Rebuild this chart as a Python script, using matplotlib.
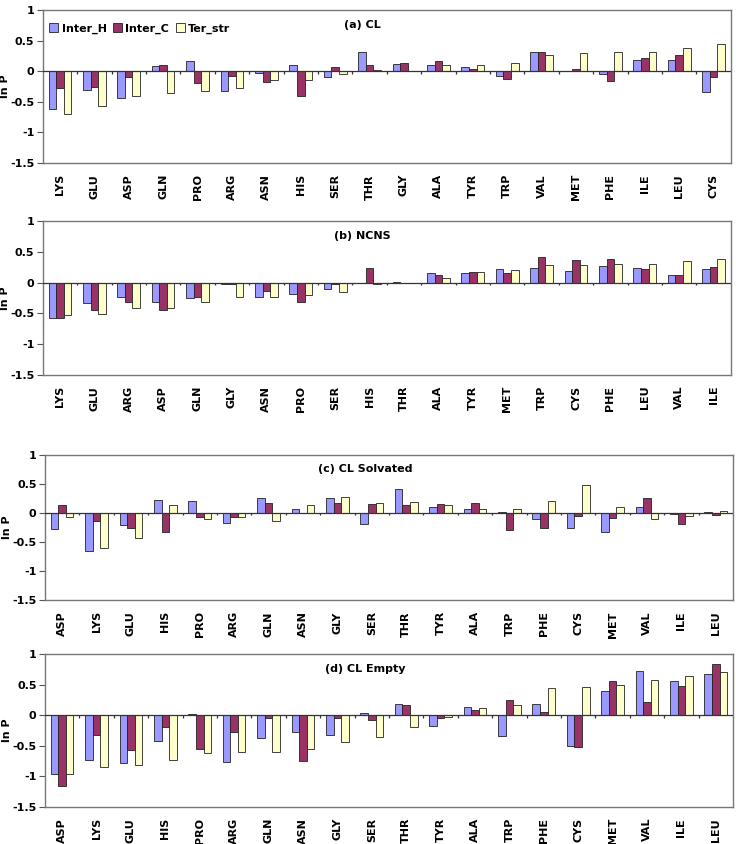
import matplotlib.pyplot as plt
import numpy as np
from matplotlib.patches import Patch

# (a) CL
cats_a = ['LYS', 'GLU', 'ASP', 'GLN', 'PRO', 'ARG', 'ASN', 'HIS', 'SER', 'THR',
          'GLY', 'ALA', 'TYR', 'TRP', 'VAL', 'MET', 'PHE', 'ILE', 'LEU', 'CYS']
h_a = [-0.61, -0.30, -0.43, 0.08, 0.17, -0.32, -0.03, 0.11, -0.10, 0.32,
       0.12, 0.10, 0.07, -0.08, 0.31, 0.00, -0.04, 0.18, 0.19, -0.34]
c_a = [-0.27, -0.26, -0.09, 0.10, -0.20, -0.08, -0.18, -0.40, 0.07, 0.11,
       0.14, 0.17, 0.03, -0.13, 0.31, 0.04, -0.16, 0.22, 0.26, -0.10]
t_a = [-0.70, -0.57, -0.40, -0.35, -0.33, -0.28, -0.15, -0.14, -0.05, 0.02,
       0.01, 0.10, 0.11, 0.14, 0.26, 0.30, 0.31, 0.31, 0.38, 0.44]

# (b) NCNS
cats_b = ['LYS', 'GLU', 'ARG', 'ASP', 'GLN', 'GLY', 'ASN', 'PRO', 'SER', 'HIS',
          'THR', 'ALA', 'TYR', 'MET', 'TRP', 'CYS', 'PHE', 'LEU', 'VAL', 'ILE']
h_b = [-0.58, -0.34, -0.23, -0.32, -0.25, -0.03, -0.23, -0.19, -0.10, 0.00,
       0.015, 0.16, 0.16, 0.22, 0.23, 0.19, 0.27, 0.24, 0.12, 0.22]
c_b = [-0.58, -0.45, -0.32, -0.45, -0.23, -0.02, -0.13, -0.31, -0.02, 0.23,
       -0.01, 0.12, 0.17, 0.15, 0.41, 0.37, 0.39, 0.22, 0.12, 0.26]
t_b = [-0.52, -0.51, -0.41, -0.41, -0.32, -0.23, -0.23, -0.20, -0.16, -0.03,
       0.00, 0.08, 0.17, 0.21, 0.28, 0.28, 0.31, 0.31, 0.35, 0.38]

# (c) CL Solvated
cats_c = ['ASP', 'LYS', 'GLU', 'HIS', 'PRO', 'ARG', 'GLN', 'ASN', 'GLY', 'SER',
          'THR', 'TYR', 'ALA', 'TRP', 'PHE', 'CYS', 'MET', 'VAL', 'ILE', 'LEU']
h_c = [-0.27, -0.66, -0.21, 0.23, 0.20, -0.17, 0.25, 0.07, 0.26, -0.19,
       0.41, 0.11, 0.07, 0.02, -0.11, -0.26, -0.32, 0.10, -0.02, 0.02]
c_c = [0.13, -0.14, -0.26, -0.33, -0.07, -0.07, 0.18, 0.00, 0.18, 0.16,
       0.13, 0.16, 0.18, -0.29, -0.26, -0.06, -0.09, 0.26, -0.19, -0.03]
t_c = [-0.07, -0.60, -0.43, 0.14, -0.10, -0.07, -0.14, 0.14, 0.27, 0.17,
       0.19, 0.13, 0.06, 0.07, 0.21, 0.49, 0.11, -0.10, -0.06, 0.03]

# (d) CL Empty
cats_d = ['ASP', 'LYS', 'GLU', 'HIS', 'PRO', 'ARG', 'GLN', 'ASN', 'GLY', 'SER',
          'THR', 'TYR', 'ALA', 'TRP', 'PHE', 'CYS', 'MET', 'VAL', 'ILE', 'LEU']
h_d = [-0.96, -0.74, -0.78, -0.43, 0.02, -0.77, -0.38, -0.27, -0.32, 0.04,
       0.18, -0.17, 0.13, -0.34, 0.19, -0.51, 0.39, 0.72, 0.56, 0.67]
c_d = [-1.16, -0.32, -0.57, -0.19, -0.56, -0.27, -0.05, -0.75, -0.05, -0.08,
       0.16, -0.05, 0.08, 0.25, 0.05, -0.52, 0.56, 0.22, 0.48, 0.83]
t_d = [-0.96, -0.84, -0.82, -0.73, -0.62, -0.61, -0.60, -0.56, -0.44, -0.36,
       -0.20, -0.03, 0.12, 0.17, 0.45, 0.46, 0.49, 0.57, 0.64, 0.70]

series_names = ['Inter_H', 'Inter_C', 'Ter_str']
colors = ['#9999FF', '#993366', '#FFFFCC']

panels = [
    ('(a) CL', cats_a, [h_a, c_a, t_a], [0.058, 0.807, 0.935, 0.181]),
    ('(b) NCNS', cats_b, [h_b, c_b, t_b], [0.058, 0.556, 0.935, 0.182]),
    ('(c) CL Solvated', cats_c, [h_c, c_c, t_c], [0.061, 0.289, 0.935, 0.172]),
    ('(d) CL Empty', cats_d, [h_d, c_d, t_d], [0.061, 0.044, 0.935, 0.181]),
]

fig = plt.figure(figsize=(7.36, 8.44), dpi=100)
w = 0.22

for i, (title, cats, vals, rect) in enumerate(panels):
    ax = fig.add_axes(rect)
    x = np.arange(len(cats))
    for k in range(3):
        ax.bar(x + (k - 1) * w, vals[k], w, color=colors[k],
               edgecolor='#222222', linewidth=0.6, zorder=3)
    ax.axhline(0, color='#333333', lw=0.9, zorder=4)
    # small category ticks on the zero line
    ax.vlines(x[:-1] + 0.5, -0.04, 0, color='#333333', lw=0.9, zorder=4)
    ax.set_xlim(-0.5, len(cats) - 0.5)
    ax.set_ylim(-1.5, 1)
    ax.set_yticks([-1.5, -1, -0.5, 0, 0.5, 1])
    ax.set_yticklabels(['-1.5', '-1', '-0.5', '0', '0.5', '1'],
                       fontsize=8, fontweight='bold')
    ax.set_xticks(x)
    ax.set_xticklabels(cats, rotation=90, fontsize=8, fontweight='bold')
    ax.tick_params(axis='x', length=0, pad=8)
    ax.tick_params(axis='y', length=4, width=0.8, color='#555555', pad=2)
    for s in ax.spines.values():
        s.set_color('#777777')
        s.set_linewidth(1.0)
    ax.set_ylabel('ln P', fontsize=8, fontweight='bold')
    ax.yaxis.set_label_coords(-0.048, 0.5)
    ax.text(0.465, 0.9, title, transform=ax.transAxes, ha='center',
            va='center', fontsize=8, fontweight='bold')
    if i == 0:
        handles = [Patch(facecolor=colors[k], edgecolor='#222222', lw=0.6,
                         label=series_names[k]) for k in range(3)]
        ax.legend(handles=handles, ncol=3, frameon=False, loc='center left',
                  bbox_to_anchor=(0.0, 0.88), prop={'size': 8, 'weight': 'bold'},
                  handlelength=0.8, handleheight=0.8, handletextpad=0.3,
                  columnspacing=0.6, borderaxespad=0.2)

fig.savefig('out.png', dpi=100, facecolor='white')
